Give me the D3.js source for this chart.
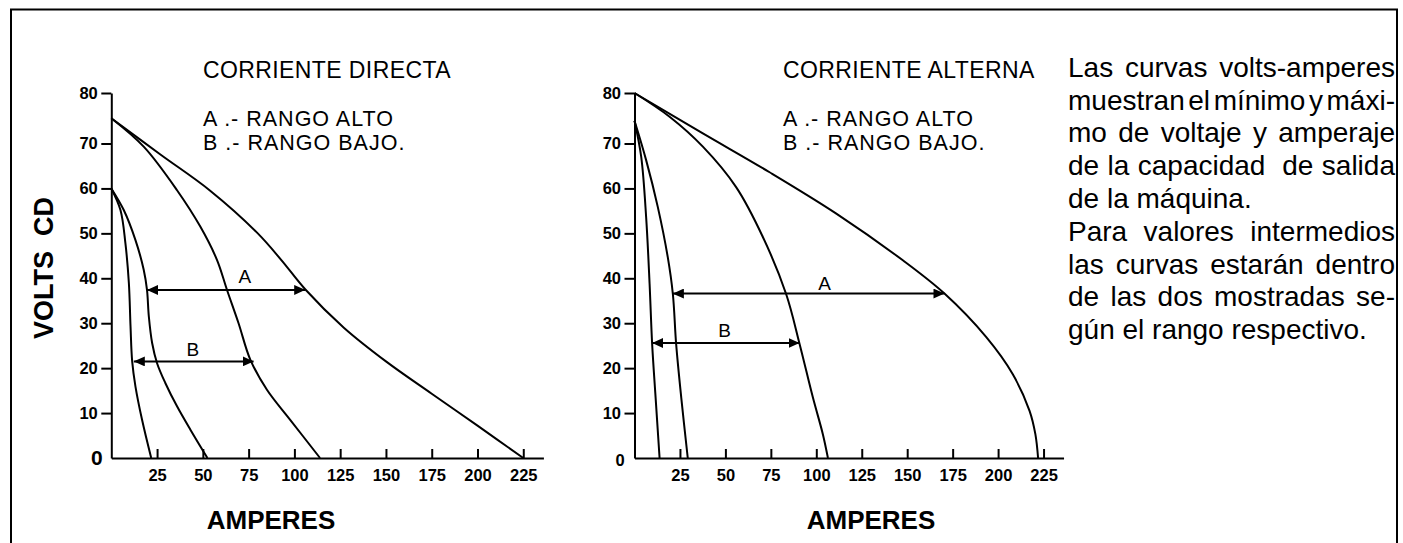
<!DOCTYPE html>
<html>
<head>
<meta charset="utf-8">
<script src="https://cdn.jsdelivr.net/npm/d3@7"></script>
<style>
	body { margin: 0; background: #fff; }
	svg { display: block; font-family: "Liberation Sans", Arial, sans-serif; }
</style>
</head>
<body>
<div class="va__chart"></div>
<script>
/* DATA - [amperes, volts] */
const ampTicks = [25, 50, 75, 100, 125, 150, 175, 200, 225];
const voltTicks = [10, 20, 30, 40, 50, 60, 70, 80];

const panelTitles = ['CORRIENTE DIRECTA', 'CORRIENTE ALTERNA'];
const rangeLabels = ['A .- RANGO ALTO', 'B .- RANGO BAJO.'];

// corriente directa
const dcHighOuter = [[0, 75], [27, 67.5], [54, 59.5], [80, 50], [93, 44], [106, 37.5], [127, 29], [150, 21.5], [175, 14.3], [200, 7.2], [225, 0]];
const dcHighInner = [[0, 75], [17.7, 69.3], [35.9, 59.6], [48.6, 51.5], [57.7, 44.1], [63.2, 37.4], [69.5, 30], [75.9, 21.9], [85, 15.2], [97.7, 8.5], [114, 0]];
const dcLowOuter = [[0, 60], [6.8, 55.2], [13.2, 48.5], [17.7, 41.9], [19.5, 37.4], [20.5, 31.5], [22.3, 25.6], [25, 21.1], [29.5, 16.7], [35.9, 11.5], [43.2, 6.3], [52.5, 0]];
const dcLowInner = [[0, 60], [5, 55.2], [7.7, 47.8], [9.6, 38.9], [10.5, 29.3], [11.4, 21.5], [13.2, 15.9], [16.8, 8.5], [21.8, 0]];
const dcArrows = [
	{label: 'A', volts: 37.4, from: 19.5, to: 105.9, labelAmps: 73, labelVolts: 39},
	{label: 'B', volts: 21.5, from: 12.3, to: 77.7, labelAmps: 44.6, labelVolts: 22.6}
];

// corriente alterna
const acHighOuter = [[0, 80], [37.6, 72], [74.3, 63.6], [111, 54.4], [147.6, 44], [170.5, 36.6], [193.5, 26.9], [208, 18.7], [217.3, 10.5], [220.5, 5.3], [222, 0]];
const acHighInner = [[0, 80], [19.3, 75.3], [37.6, 69.3], [55.9, 60.3], [70.6, 49.2], [83.4, 36.5], [90.8, 25.4], [98.1, 13.5], [103.6, 5.3], [106.4, 0]];
const acLowOuter = [[0, 74.5], [6.4, 66.3], [12.8, 55.9], [18.3, 44.7], [21.1, 36.5], [22.9, 25.4], [25.7, 13.5], [29.3, 0]];
const acLowInner = [[0, 74.5], [3.7, 67], [6.4, 53.6], [8.3, 38.8], [9.7, 25.4], [11.6, 13.5], [13.8, 0]];
const acArrows = [
	{label: 'A', volts: 36.6, from: 21.1, to: 170.5, labelAmps: 104.5, labelVolts: 37.4},
	{label: 'B', volts: 25.6, from: 9.7, to: 90.8, labelAmps: 49.5, labelVolts: 26.9}
];

const noteParagraphs = [
	['Las curvas volts-amperes', 'muestran el mínimo y máxi-', 'mo de voltaje y amperaje', 'de la capacidad  de salida', 'de la máquina.'],
	['Para valores intermedios', 'las curvas estarán dentro', 'de las dos mostradas se-', 'gún el rango respectivo.']
];

const voltAmpCharts = {
	vars() {
		this.width = 1403;
		this.height = 543;
		this.svg = d3.select('.va__chart')
			.append('svg')
			.attr('width', this.width)
			.attr('height', this.height);
		this.yRange = [458, 143.5, 93];
		this.ampMax = 236;
		this.tickFont = 16.5;
		this.panels = [
			{left: 111.3, ampPx: 1.831, title: panelTitles[0], titleX: 203, amperesX: 271, bigZero: true,
				curves: [dcHighOuter, dcHighInner, dcLowOuter, dcLowInner], arrows: dcArrows},
			{left: 634.5, ampPx: 1.818, title: panelTitles[1], titleX: 783, amperesX: 871, bigZero: false,
				curves: [acHighOuter, acHighInner, acLowOuter, acLowInner], arrows: acArrows}
		];
	},
	makeDefs() {
		this.svg.append('defs')
			.append('marker')
			.attr('id', 'va-head')
			.attr('viewBox', '0 0 11 10')
			.attr('refX', 11)
			.attr('refY', 5)
			.attr('markerWidth', 11)
			.attr('markerHeight', 10)
			.attr('markerUnits', 'userSpaceOnUse')
			.attr('orient', 'auto-start-reverse')
			.append('path')
			.attr('d', 'M0,0L11,5L0,10Z')
			.attr('fill', '#000');

		/* FRAME */
		this.svg.append('rect')
			.attr('x', 11)
			.attr('y', 9.5)
			.attr('width', 1386)
			.attr('height', 580)
			.attr('fill', 'none')
			.attr('stroke', '#000')
			.attr('stroke-width', 2);
	},
	makePanel(p) {
		const svg = this.svg.append('g');

		/* SCALES */
		const xScale = d3.scaleLinear()
			.domain([0, this.ampMax])
			.range([p.left, p.left + this.ampMax * p.ampPx]);
		const yScale = d3.scaleLinear()
			.domain([0, 70, 80]) // the 80 tick sits a bit higher in the original
			.range(this.yRange);

		/* Y AXIS */
		const yAxis = d3.axisLeft(yScale).tickValues(voltTicks).tickSize(10).tickPadding(3.5).tickSizeOuter(0);
		svg.append('g')
			.attr('transform', `translate(${p.left}, 0)`)
			.call(yAxis)
			.call(g => this.styleAxis(g));

		/* X AXIS - ticks point up */
		const xAxis = d3.axisBottom(xScale).tickValues(ampTicks).tickSize(-9).tickPadding(11).tickSizeOuter(0);
		svg.append('g')
			.attr('transform', `translate(0, ${yScale(0)})`)
			.call(xAxis)
			.call(g => this.styleAxis(g));

		svg.append('text')
			.attr('x', p.left - (p.bigZero ? 14.5 : 14.5))
			.attr('y', yScale(0) + (p.bigZero ? 7 : 7.5))
			.attr('text-anchor', 'middle')
			.attr('font-size', p.bigZero ? 21 : this.tickFont)
			.attr('font-weight', 'bold')
			.text('0');

		svg.append('text')
			.attr('x', p.amperesX)
			.attr('y', 529)
			.attr('text-anchor', 'middle')
			.attr('font-size', 26)
			.attr('font-weight', 'bold')
			.text('AMPERES');

		/* TITLES */
		svg.append('text')
			.attr('x', p.titleX)
			.attr('y', 77.5)
			.attr('font-size', 23)
			.attr('letter-spacing', 0.4)
			.text(p.title);
		svg.selectAll('.va__range')
			.data(rangeLabels)
			.enter()
			.append('text')
			.attr('class', 'va__range')
			.attr('x', p.titleX)
			.attr('y', (d, i) => 125.8 + i * 24.4)
			.attr('font-size', 21.5)
			.attr('letter-spacing', 1)
			.text(d => d);

		/* CURVES */
		const line = d3.line()
			.x(d => xScale(d[0]))
			.y(d => yScale(d[1]))
			.curve(d3.curveCatmullRom.alpha(0.5));
		svg.selectAll('.va__curve')
			.data(p.curves)
			.enter()
			.append('path')
			.attr('class', 'va__curve')
			.attr('d', line)
			.attr('fill', 'none')
			.attr('stroke', '#000')
			.attr('stroke-width', 2);

		/* RANGE ARROWS */
		const arrow = svg.selectAll('.va__arrow')
			.data(p.arrows)
			.enter()
			.append('g')
			.attr('class', 'va__arrow');
		arrow.append('line')
			.attr('x1', d => xScale(d.from))
			.attr('x2', d => xScale(d.to))
			.attr('y1', d => yScale(d.volts))
			.attr('y2', d => yScale(d.volts))
			.attr('stroke', '#000')
			.attr('stroke-width', 2)
			.attr('marker-start', 'url(#va-head)')
			.attr('marker-end', 'url(#va-head)');
		arrow.append('text')
			.attr('x', d => xScale(d.labelAmps))
			.attr('y', d => yScale(d.labelVolts))
			.attr('text-anchor', 'middle')
			.attr('font-size', 19)
			.text(d => d.label);
	},
	styleAxis(g) {
		g.attr('font-family', null).attr('font-size', null);
		g.select('.domain').attr('stroke', '#000').attr('stroke-width', 2);
		g.selectAll('.tick line').attr('stroke', '#000').attr('stroke-width', 2);
		g.selectAll('.tick text')
			.attr('fill', '#000')
			.attr('font-size', this.tickFont)
			.attr('font-weight', 'bold');
	},
	makeNote() {
		const left = 1068;
		const right = 1395;
		const lineGap = 32.8;
		let row = 0;
		noteParagraphs.forEach(lines => {
			lines.forEach((txt, i) => {
				const text = this.svg.append('text')
					.attr('y', 76.7 + row * lineGap)
					.attr('font-size', 28);
				row++;
				const justify = i < lines.length - 1;
				if (!justify) {
					text.attr('x', left).text(txt);
					return;
				}
				// justified line: place words one by one (a double space keeps a double gap)
				const words = txt.split(' ');
				const spans = words.map(w => text.append('tspan').text(w));
				const sizes = spans.map(s => s.node().getComputedTextLength());
				const gap = (right - left - d3.sum(sizes)) / (words.length - 1);
				let x = left;
				spans.forEach((s, k) => {
					s.attr('x', x);
					x += sizes[k] + gap;
				});
			});
		});
	},
	init() {
		this.vars();
		this.makeDefs();
		this.panels.forEach(p => this.makePanel(p));

		/* Y AXIS TITLE */
		this.svg.append('text')
			.attr('transform', 'translate(53, 268) rotate(-90)')
			.attr('text-anchor', 'middle')
			.attr('font-size', 27)
			.attr('font-weight', 'bold')
			.style('white-space', 'pre')
			.text('VOLTS  CD');

		this.makeNote();
	}
};

voltAmpCharts.init();
</script>
</body>
</html>
